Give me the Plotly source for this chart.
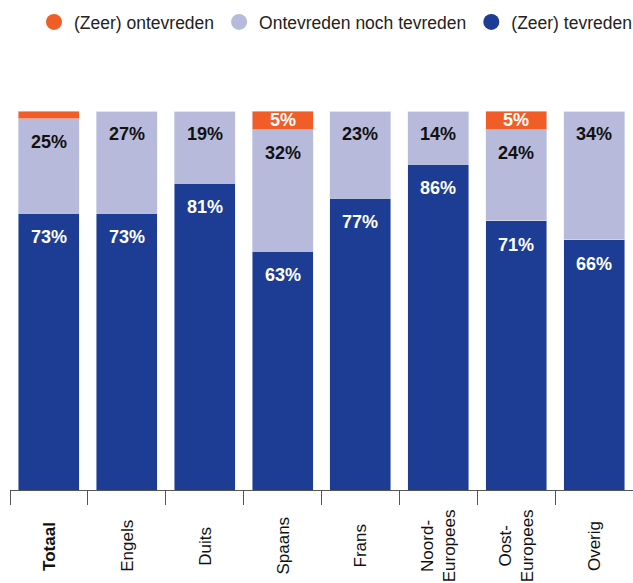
import plotly.graph_objects as go

# Satisfaction per language group (percentages)
categories = ["Totaal", "Engels", "Duits", "Spaans", "Frans",
              "Noord-<br>Europees", "Oost-<br>Europees", "Overig"]
category_labels = ["<b>Totaal</b>", "Engels", "Duits", "Spaans", "Frans",
                   "Noord-<br>Europees", "Oost-<br>Europees", "Overig"]
tevreden = [73, 73, 81, 63, 77, 86, 71, 66]
neutraal = [25, 27, 19, 32, 23, 14, 24, 34]
ontevreden = [2, 0, 0, 5, 0, 0, 5, 0]
ontevreden_labeled = [False, False, False, True, False, False, True, False]

series_names = ["(Zeer) ontevreden", "Ontevreden noch tevreden", "(Zeer) tevreden"]

C_ORANGE = "#F15D26"
C_LIGHT = "#B7BADB"
C_BLUE = "#1D3D94"
FONT = "Liberation Sans, Arial, Helvetica, sans-serif"

fig = go.Figure()

# stacked bars
fig.add_bar(x=categories, y=tevreden, marker_color=C_BLUE, showlegend=False,
            hoverinfo="skip")
fig.add_bar(x=categories, y=neutraal, marker_color=C_LIGHT, showlegend=False,
            hoverinfo="skip")
fig.add_bar(x=categories, y=ontevreden, marker_color=C_ORANGE, showlegend=False,
            hoverinfo="skip")

# circular legend entries
for name, col in zip(series_names, [C_ORANGE, C_LIGHT, C_BLUE]):
    fig.add_scatter(x=[None], y=[None], mode="markers", name=name,
                    marker=dict(color=col, size=18, symbol="circle"))

annotations = []
for cat, b, n, o, lab in zip(categories, tevreden, neutraal, ontevreden,
                             ontevreden_labeled):
    annotations.append(dict(x=cat, y=b, text=f"<b>{b}%</b>", showarrow=False,
                            yanchor="middle", yshift=-24,
                            font=dict(color="white", size=18, family=FONT)))
    annotations.append(dict(x=cat, y=b + n, text=f"<b>{n}%</b>", showarrow=False,
                            yanchor="middle", yshift=-23,
                            font=dict(color="#111111", size=18, family=FONT)))
    if lab:
        annotations.append(dict(x=cat, y=b + n + o / 2, text=f"<b>{o}%</b>",
                                showarrow=False, yanchor="middle",
                                font=dict(color="white", size=18, family=FONT)))

# rotated category labels below the axis
for cat, lab in zip(categories, category_labels):
    annotations.append(dict(x=cat, y=0, yref="paper", yshift=-56, text=lab,
                            showarrow=False, textangle=-90, yanchor="middle",
                            xanchor="center", align="center",
                            font=dict(color="#111111", size=17, family=FONT)))

fig.update_layout(
    barmode="stack",
    bargap=0.217,
    width=633, height=583,
    margin=dict(l=10, r=0, t=111, b=93),
    paper_bgcolor="white", plot_bgcolor="white",
    font=dict(family=FONT, color="#222222"),
    legend=dict(orientation="h", xref="container", yref="container",
                x=34 / 633, y=1 - 22 / 583, xanchor="left", yanchor="middle",
                traceorder="normal",
                font=dict(size=17.5, color="#222222", family=FONT),
                itemsizing="trace", bgcolor="rgba(0,0,0,0)"),
    annotations=annotations,
    xaxis=dict(showticklabels=False, showline=True, linecolor="#555555",
               linewidth=1, ticks="outside", tickson="boundaries",
               ticklen=14, tickcolor="#555555", tickwidth=1,
               showgrid=False, zeroline=False, fixedrange=True),
    yaxis=dict(range=[0, 100], visible=False, showgrid=False,
               zeroline=False, fixedrange=True),
)

fig.write_html("out.html")
